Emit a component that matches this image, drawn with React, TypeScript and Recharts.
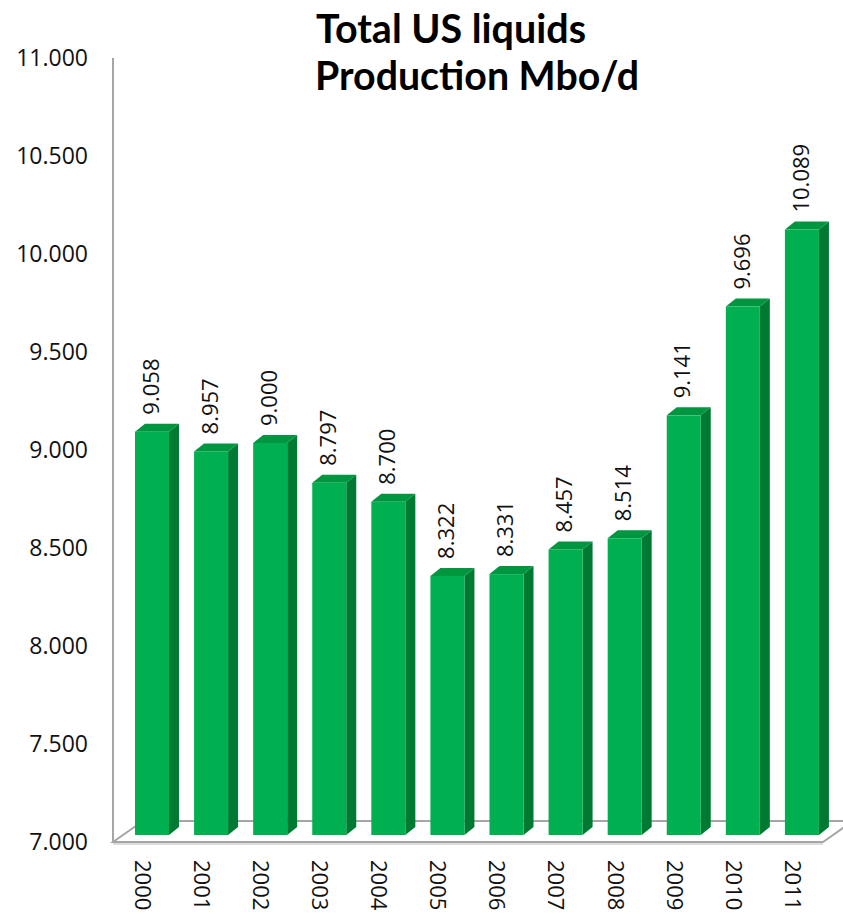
import React from 'react';
import { BarChart, Bar, XAxis, YAxis, LabelList, ReferenceArea } from 'recharts';

const YEARS = ['2000', '2001', '2002', '2003', '2004', '2005', '2006', '2007', '2008', '2009', '2010', '2011'];
const PRODUCTION = [9.058, 8.957, 9.0, 8.797, 8.7, 8.322, 8.331, 8.457, 8.514, 9.141, 9.696, 10.089];
const Y_TICKS = [7, 7.5, 8, 8.5, 9, 9.5, 10, 10.5, 11];

const data = YEARS.map((year, i) => ({ year, value: PRODUCTION[i] }));

// 3D look: bars sit back from the floor's front edge, with a side + top face
const SHIFT_X = 9;
const SHIFT_Y = 7;
const DEPTH_X = 10;
const DEPTH_Y = 8;
const FLOOR_X = 30;
const FLOOR_Y = 21;

const FRONT = '#00b050';
const SIDE = '#007a33';
const TOP = '#00963f';
const AXIS_GRAY = '#a6a6a6';
const FONT = '"Open Sans", "Noto Sans", sans-serif';

const fmt = (v: number) => v.toFixed(3);

function Box3D(props: any) {
  const { x, y, width, height } = props;
  if (height <= 0) return null;
  const fx = x + SHIFT_X;
  const fy = y - SHIFT_Y;
  const r = fx + width;
  const b = fy + height;
  return (
    <g>
      <polygon
        points={`${r},${fy} ${r + DEPTH_X},${fy - DEPTH_Y} ${r + DEPTH_X},${b - DEPTH_Y} ${r},${b}`}
        fill={SIDE}
      />
      <polygon
        points={`${fx},${fy} ${fx + DEPTH_X},${fy - DEPTH_Y} ${r + DEPTH_X},${fy - DEPTH_Y} ${r},${fy}`}
        fill={TOP}
      />
      <rect x={fx} y={fy} width={width} height={height} fill={FRONT} />
    </g>
  );
}

function Floor(props: any) {
  const { x, y, width, height } = props;
  const fy = y + height;
  const right = x + width + 1;
  return (
    <g fill="none" stroke={AXIS_GRAY} strokeWidth={2}>
      <polygon
        points={`${x},${fy} ${x + FLOOR_X},${fy - FLOOR_Y} ${right + FLOOR_X},${fy - FLOOR_Y} ${right},${fy}`}
        fill="#ffffff"
      />
      <line x1={x} y1={fy + 2} x2={right} y2={fy + 2} stroke="#d0d0d0" strokeWidth={1.5} />
    </g>
  );
}

function ValueLabel(props: any) {
  const { x, y, width, value } = props;
  const cx = x + SHIFT_X + width / 2 - 1;
  const cy = y - SHIFT_Y - DEPTH_Y - 9;
  return (
    <text
      transform={`translate(${cx},${cy}) rotate(-90)`}
      dy="0.35em"
      textAnchor="start"
      fontSize={22}
      fontFamily={FONT}
      fill="#111"
    >
      {fmt(Number(value))}
    </text>
  );
}

function YearTick(props: any) {
  const { x, y, payload } = props;
  return (
    <text
      transform={`translate(${x},${y}) rotate(90)`}
      dy="0.35em"
      textAnchor="start"
      fontSize={22}
      fontFamily={FONT}
      fill="#111"
    >
      {payload.value}
    </text>
  );
}

export default function App() {
  return (
    <div style={{ position: 'absolute', left: 0, top: 0, width: 843, height: 914, background: '#fff' }}>
      <BarChart
        width={843}
        height={914}
        data={data}
        margin={{ top: 58, right: 21, left: 8, bottom: 12 }}
        barSize={34}
      >
        <ReferenceArea y1={7} y2={7.1} ifOverflow="visible" shape={<Floor />} />
        <XAxis
          dataKey="year"
          axisLine={false}
          tickLine={false}
          tickSize={0}
          tickMargin={18}
          height={60}
          interval={0}
          tick={<YearTick />}
        />
        <YAxis
          domain={[7, 11]}
          ticks={Y_TICKS}
          width={105}
          tickFormatter={fmt}
          tickLine={false}
          tickSize={0}
          tickMargin={25}
          axisLine={{ stroke: AXIS_GRAY, strokeWidth: 2 }}
          tick={{ fontSize: 23, fill: '#111', fontFamily: FONT }}
        />
        <Bar dataKey="value" shape={<Box3D />} isAnimationActive={false}>
          <LabelList dataKey="value" content={<ValueLabel />} />
        </Bar>
      </BarChart>
      <svg
        width={843}
        height={110}
        style={{ position: 'absolute', left: 0, top: 0, pointerEvents: 'none' }}
      >
        <g fontFamily="Lato, 'Open Sans', sans-serif" fontWeight="bold" fontSize={40} fill="#000">
          <text x={316} y={43} textLength={270} lengthAdjust="spacingAndGlyphs">
            Total US liquids
          </text>
          <text x={315} y={90} textLength={324} lengthAdjust="spacingAndGlyphs">
            Production Mbo/d
          </text>
        </g>
      </svg>
    </div>
  );
}
